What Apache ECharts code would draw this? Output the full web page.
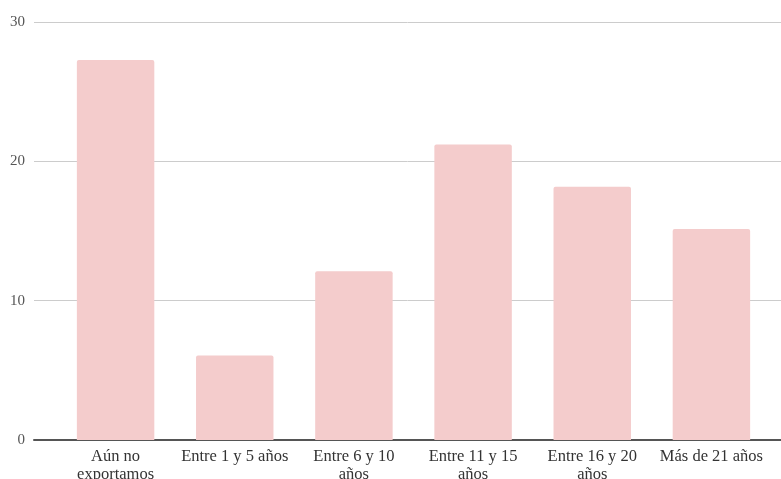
<!DOCTYPE html>
<html>
<head>
<meta charset="utf-8">
<script src="https://cdn.jsdelivr.net/npm/echarts@6/dist/echarts.min.js"></script>
<style>
  html, body { margin: 0; padding: 0; background: #fff; }
  #chart { width: 781px; height: 479px; }
</style>
</head>
<body>
<div id="chart"></div>
<script>
// Años exportando: share of firms per group (%)
const categories = ['Aún no\nexportamos', 'Entre 1 y 5 años', 'Entre 6 y 10\naños', 'Entre 11 y 15\naños', 'Entre 16 y 20\naños', 'Más de 21 años'];
const values = [27.27, 6.06, 12.12, 21.21, 18.18, 15.15];
const yTicks = [0, 10, 20, 30];

const serif = '"Liberation Serif", "DejaVu Serif", serif';
const chart = echarts.init(document.getElementById('chart'));

chart.setOption({
  animation: false,
  grid: [
    // frame carrying the gridlines and the zero line
    { left: 34, right: 0, top: 22, bottom: 39, outerBoundsMode: 'none' },
    // inner frame holding the bars
    { left: 56, right: 10, top: 22, bottom: 39, outerBoundsMode: 'none' }
  ],
  xAxis: [
    {
      gridIndex: 0, type: 'value', min: 0, max: 1,
      axisLine: { show: true, lineStyle: { color: '#555', width: 2 } },
      axisTick: { show: false }, axisLabel: { show: false }, splitLine: { show: false }
    },
    {
      gridIndex: 1, type: 'category', data: categories,
      axisLine: { show: false }, axisTick: { show: false },
      axisLabel: {
        interval: 0, margin: 8, color: '#333', fontFamily: serif, fontSize: 16.5,
        lineHeight: 18, hideOverlap: false
      }
    }
  ],
  yAxis: [
    {
      gridIndex: 0, type: 'value', min: yTicks[0], max: yTicks[yTicks.length - 1], interval: 10,
      axisLine: { show: false }, axisTick: { show: false },
      axisLabel: { color: '#555', fontFamily: serif, fontSize: 15, margin: 9 },
      splitLine: { lineStyle: { color: '#cccccc', width: 1 } }
    },
    {
      gridIndex: 1, type: 'value', min: yTicks[0], max: yTicks[yTicks.length - 1],
      show: false, splitLine: { show: false }
    }
  ],
  series: [{
    type: 'bar',
    xAxisIndex: 1, yAxisIndex: 1,
    data: values,
    barCategoryGap: '35%',
    itemStyle: { color: '#f4cccc', borderRadius: [2, 2, 0, 0] }
  }]
});
</script>
</body>
</html>
